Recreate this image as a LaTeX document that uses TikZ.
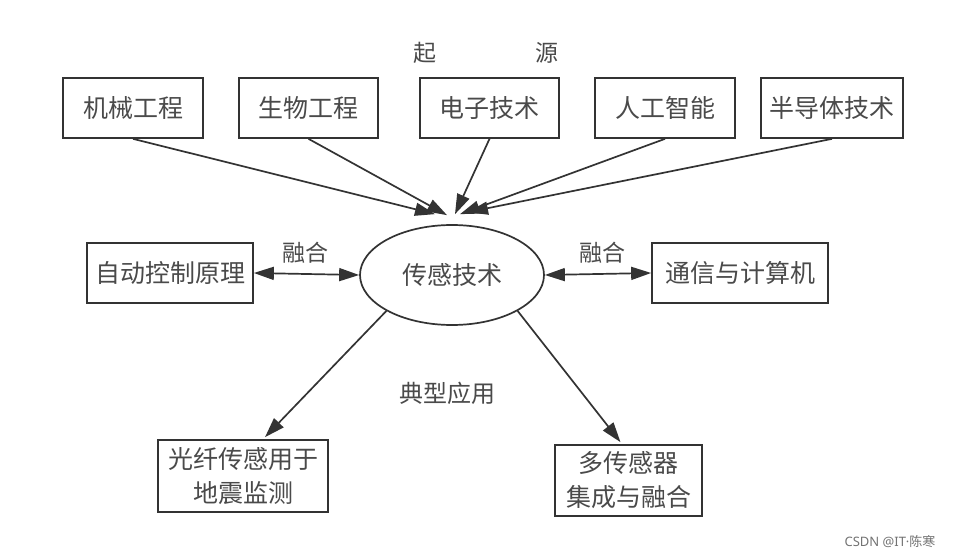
\documentclass[tikz,border=0pt]{standalone}
\usepackage{fontspec}
\newfontfamily\cjk{Noto Sans CJK SC}
\newfontfamily\latinf{Noto Sans}
\usetikzlibrary{arrows.meta,shapes.geometric}
\definecolor{linec}{HTML}{333333}
\definecolor{textc}{HTML}{4A4A4A}
\tikzset{
  box/.style={draw=linec, line width=1.7pt, rectangle, inner sep=0pt, text=textc, font=\cjk\fontsize{25}{34}\selectfont, align=center},
  lbl/.style={text=textc, font=\cjk\fontsize{23}{26}\selectfont, inner sep=0pt},
  arr/.style={draw=linec, line width=1.7pt, -{Stealth[length=20pt,width=13pt,inset=0pt]}},
  darr/.style={draw=linec, line width=1.7pt, {Stealth[length=20pt,width=13pt,inset=0pt]}-{Stealth[length=20pt,width=13pt,inset=0pt]}}
}
\begin{document}
\begin{tikzpicture}
\begin{scope}[x=1pt,y=-1pt]
\useasboundingbox[fill=white] (0,0) rectangle (956,559);
% top boxes
\node[box, minimum width=140pt, minimum height=60pt] (b1) at (133,108) {机械工程};
\node[box, minimum width=139pt, minimum height=60pt] (b2) at (308.5,108) {生物工程};
\node[box, minimum width=139pt, minimum height=60pt] (b3) at (489.5,108) {电子技术};
\node[box, minimum width=140pt, minimum height=60pt] (b4) at (665,108) {人工智能};
\node[box, minimum width=142pt, minimum height=60pt] (b5) at (832,108) {半导体技术};
\node[lbl] (q1) at (425,53) {起};
\node[lbl] (q2) at (547,53) {源};
% central ellipse
\node[ellipse, draw=linec, line width=1.7pt, minimum width=184pt, minimum height=100pt, inner sep=0pt, text=textc, font=\cjk\fontsize{25}{30}\selectfont] (ell) at (452,275) {传感技术};
% side boxes
\node[box, minimum width=166pt, minimum height=60pt] (lb) at (170,273) {自动控制原理};
\node[box, minimum width=176pt, minimum height=60pt] (rb) at (740,273) {通信与计算机};
\node[lbl] (f1) at (305,253) {融合};
\node[lbl] (f2) at (602,253) {融合};
% bottom boxes
\node[box, minimum width=170pt, minimum height=72pt] (bl) at (243,476) {光纤传感用于\\地震监测};
\node[box, minimum width=147pt, minimum height=71pt] (br) at (628.5,480.5) {多传感器\\集成与融合};
\node[lbl, font=\cjk\fontsize{24}{26}\selectfont] (app) at (447,393) {典型应用};
% watermark
\node[text=black!55, font=\cjk\fontsize{13}{15}\selectfont, inner sep=0pt] (wm) at (890,542) {{\latinf CSDN @IT·}陈寒};
\end{scope}
% arrows
\draw[arr] (b1.south) -- ([xshift=-17pt,yshift=10pt]ell.north);
\draw[arr] (b2.south) -- ([xshift=-5pt,yshift=9pt]ell.north);
\draw[arr] (b3.south) -- ([xshift=3pt,yshift=10pt]ell.north);
\draw[arr] (b4.south) -- ([xshift=8pt,yshift=10pt]ell.north);
\draw[arr] (b5.south) -- ([xshift=16pt,yshift=12pt]ell.north);
\draw[darr] (lb.east) -- (ell.west);
\draw[darr] (ell.east) -- (rb.west);
\draw[arr] (ell.south west) -- ([xshift=22pt,yshift=2pt]bl.north);
\draw[arr] (ell.south east) -- ([xshift=-8pt,yshift=2pt]br.north);
\end{tikzpicture}
\end{document}
